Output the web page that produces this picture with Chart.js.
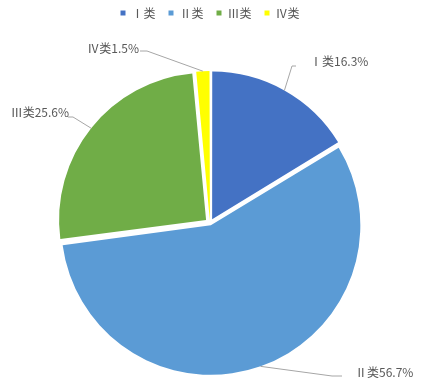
<!DOCTYPE html>
<html><head><meta charset="utf-8">
<script src="https://cdn.jsdelivr.net/npm/chart.js@4"></script>
<style>html,body{margin:0;padding:0;background:#fff}canvas{display:block}</style>
</head><body>
<canvas id="c" width="424" height="392"></canvas>
<script>
const categories = ['Ⅰ类', 'Ⅱ类', 'Ⅲ类', 'Ⅳ类'];
const shares = [16.3, 56.7, 25.6, 1.5];
const colors = ['#4472C4', '#5B9BD5', '#70AD47', '#FFFF00'];

const FONT = '"Noto Sans CJK SC", "Microsoft YaHei", sans-serif';
const SEP = 5; // visual explode distance in px
const total = shares.reduce((a, b) => a + b, 0);

// label / leader-line placement (layout only)
const labelLayout = [
  { elbow: [292, 66], end: [296, 66], text: [310, 61], align: 'left' },
  { elbow: [332, 376], end: [342, 376], text: [355, 372], align: 'left' },
  { elbow: [73, 117], end: [68, 117], text: [69, 112], align: 'right' },
  { elbow: [147, 51], end: [140, 51], text: [139, 48], align: 'right' }
];

const legendSpace = {
  id: 'legendSpace',
  afterInit(chart) {
    const lg = chart.legend;
    if (!lg || lg._patched) return;
    const orig = lg.fit.bind(lg);
    lg.fit = function () { orig(); this.height = 60; };
    lg._patched = true;
  }
};

const leaderLabels = {
  id: 'leaderLabels',
  afterDatasetsDraw(chart) {
    const ctx = chart.ctx;
    const meta = chart.getDatasetMeta(0);
    ctx.save();
    meta.data.forEach((arc, i) => {
      const p = arc.getProps(['x', 'y', 'startAngle', 'endAngle', 'outerRadius', 'circumference'], true);
      const mid = (p.startAngle + p.endAngle) / 2;
      const off = (arc.options.offset || 0) / 4;
      const fix = 1 - Math.sin(Math.min(Math.PI, p.circumference || 0));
      const d = off + off * fix;
      const ex = p.x + Math.cos(mid) * (p.outerRadius + d);
      const ey = p.y + Math.sin(mid) * (p.outerRadius + d);
      const L = labelLayout[i];
      ctx.beginPath();
      ctx.strokeStyle = '#A6A6A6';
      ctx.lineWidth = 1;
      ctx.moveTo(ex, ey);
      ctx.lineTo(L.elbow[0], L.elbow[1]);
      ctx.lineTo(L.end[0], L.end[1]);
      ctx.stroke();
      ctx.fillStyle = '#595959';
      ctx.font = '12px ' + FONT;
      ctx.textAlign = L.align;
      ctx.textBaseline = 'middle';
      ctx.fillText(categories[i] + shares[i].toFixed(1) + '%', L.text[0], L.text[1]);
    });
    ctx.restore();
  }
};

new Chart(document.getElementById('c'), {
  type: 'pie',
  data: {
    labels: categories,
    datasets: [{
      data: shares,
      backgroundColor: colors,
      borderWidth: 0,
      hoverOffset: 0,
      offset: (c) => {
        const circ = shares[c.dataIndex] / total * Math.PI * 2;
        const fix = 1 - Math.sin(Math.min(Math.PI, circ));
        return 4 * SEP / (1 + fix);
      }
    }]
  },
  options: {
    responsive: false,
    animation: false,
    devicePixelRatio: 1,
    radius: 147,
    layout: { padding: { top: -6, left: 0, right: 4, bottom: 0 } },
    plugins: {
      tooltip: { enabled: false },
      legend: {
        position: 'top',
        labels: {
          usePointStyle: true,
          pointStyle: 'rect',
          boxWidth: 5,
          boxHeight: 5,
          padding: 13,
          color: '#595959',
          font: { size: 12, family: FONT }
        }
      }
    }
  },
  plugins: [legendSpace, leaderLabels]
});
</script>
</body></html>
